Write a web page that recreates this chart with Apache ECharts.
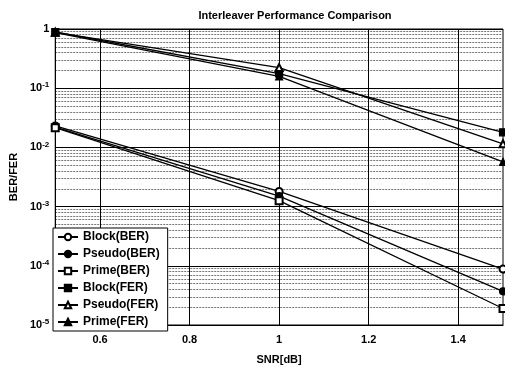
<!DOCTYPE html>
<html>
<head>
<meta charset="utf-8">
<script src="https://cdn.jsdelivr.net/npm/echarts@6/dist/echarts.min.js"></script>
<style>
  html, body { margin: 0; padding: 0; background: #fff; }
  #main { width: 505px; height: 370px; }
</style>
</head>
<body>
<div id="main"></div>
<script>
// 数据
var snr = [0.5, 1.0, 1.5];
var blockBER = [0.023, 0.0018, 0.000088];
var pseudoBER = [0.022, 0.0015, 0.000037];
var primeBER = [0.0215, 0.00126, 0.000019];
var blockFER = [0.89, 0.177, 0.018];
var pseudoFER = [0.88, 0.223, 0.0115];
var primeFER = [0.87, 0.158, 0.0057];
var xTicks = [0.6, 0.8, 1, 1.2, 1.4];

var names = ['Block(BER)', 'Pseudo(BER)', 'Prime(BER)', 'Block(FER)', 'Pseudo(FER)', 'Prime(FER)'];
var symbols = ['emptyCircle', 'circle', 'emptyRect', 'rect', 'emptyTriangle', 'triangle'];
var values = [blockBER, pseudoBER, primeBER, blockFER, pseudoFER, primeFER];

// 次刻度 2..9 x 10^k
var minorVals = [];
for (var k = -5; k < 0; k++) {
  for (var m = 2; m <= 9; m++) {
    minorVals.push(m * Math.pow(10, k));
  }
}

var font = 'Liberation Sans, Arial, sans-serif';

var myChart = echarts.init(document.getElementById('main'));

var series = names.map(function (n, i) {
  return {
    name: n,
    type: 'line',
    symbol: symbols[i],
    symbolSize: 7,
    showSymbol: true,
    clip: false,
    itemStyle: { color: '#000', borderColor: '#000', borderWidth: 1.2 },
    lineStyle: { color: '#000', width: 1.3 },
    data: snr.map(function (x, j) { return [x, values[i][j]]; })
  };
});

var option = {
  animation: false,
  backgroundColor: '#fff',
  title: {
    text: 'Interleaver Performance Comparison',
    left: 290,
    textAlign: 'center',
    top: 5,
    textStyle: { fontFamily: font, fontSize: 11, fontWeight: 'bold', color: '#000' }
  },
  grid: {
    left: 55, right: 2, top: 29, bottom: 42,
    show: true, borderColor: '#000', borderWidth: 1
  },
  legend: {
    orient: 'vertical',
    left: 53,
    top: 228,
    backgroundColor: '#fff',
    borderColor: '#000',
    borderWidth: 1,
    borderRadius: 0,
    padding: [3, 8, 3, 4],
    itemGap: 5,
    itemWidth: 20,
    itemHeight: 8,
    textStyle: { fontFamily: font, fontSize: 12, fontWeight: 'bold', color: '#000' },
    data: names
  },
  xAxis: {
    type: 'value',
    min: 0.5,
    max: 1.5,
    name: 'SNR[dB]',
    nameLocation: 'middle',
    nameGap: 29,
    nameTextStyle: { fontFamily: font, fontSize: 11, fontWeight: 'bold', color: '#000' },
    axisLine: { lineStyle: { color: '#000' } },
    axisTick: { show: false, customValues: xTicks },
    axisLabel: {
      customValues: xTicks,
      margin: 9,
      fontFamily: font, fontSize: 11, fontWeight: 'bold', color: '#000'
    },
    splitLine: { show: true, lineStyle: { color: '#000', width: 1 } }
  },
  yAxis: [{
    type: 'log',
    logBase: 10,
    min: 0.00001,
    max: 1,
    name: 'BER/FER',
    nameLocation: 'middle',
    nameGap: 35,
    nameTextStyle: { fontFamily: font, fontSize: 11, fontWeight: 'bold', color: '#000' },
    axisLine: { lineStyle: { color: '#000' } },
    axisTick: { show: false },
    axisLabel: {
      margin: 6,
      fontFamily: font, fontSize: 11, fontWeight: 'bold', color: '#000',
      formatter: function (v) {
        if (Math.abs(v - 1) < 1e-9) return '{b|1}';
        return '{b|10}{s|' + Math.round(Math.log10(v)) + '}';
      },
      rich: {
        b: { fontFamily: font, fontSize: 11, fontWeight: 'bold', color: '#000', lineHeight: 14 },
        s: { fontFamily: font, fontSize: 8, fontWeight: 'bold', color: '#000', verticalAlign: 'top', lineHeight: 14, padding: [0, 0, 5, 0] }
      }
    },
    splitLine: { show: true, lineStyle: { color: '#000', width: 1 } }
  }, {
    type: 'log',
    logBase: 10,
    min: 0.00001,
    max: 1,
    position: 'left',
    axisLine: { show: false },
    axisTick: { show: false, customValues: minorVals },
    axisLabel: { show: false, customValues: minorVals },
    splitLine: { show: true, lineStyle: { color: '#777', width: 1, type: [2, 1] } }
  }],
  series: series
};

myChart.setOption(option);
</script>
</body>
</html>
